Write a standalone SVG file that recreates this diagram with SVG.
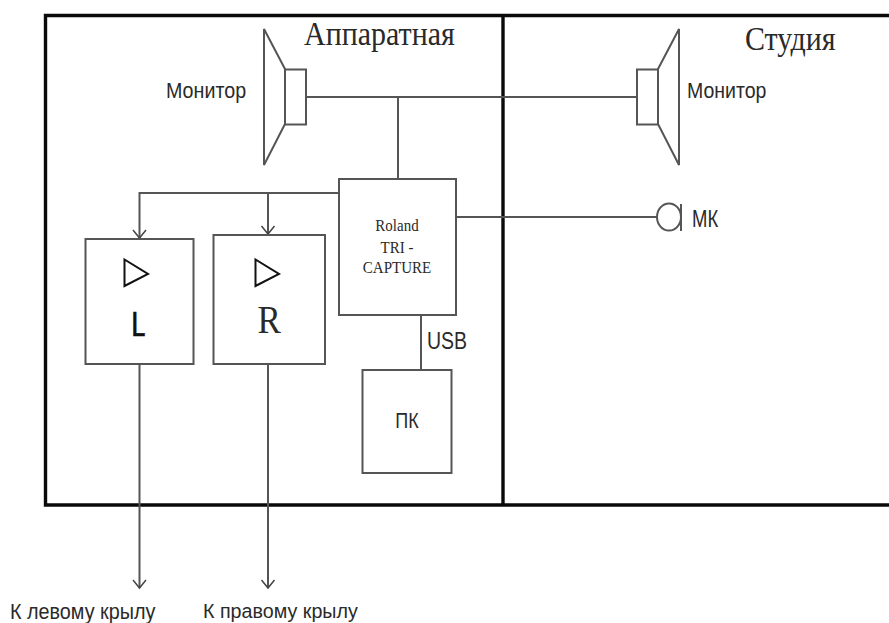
<svg xmlns="http://www.w3.org/2000/svg" width="889" height="623" viewBox="0 0 889 623">
<defs>
<marker id="arr" markerUnits="userSpaceOnUse" markerWidth="12" markerHeight="16" refX="10" refY="8" orient="auto" viewBox="0 0 12 16"><path d="M2 1.500 L10 8 L2 14.500" fill="none" stroke="#444" stroke-width="1.500"/></marker>
</defs>
<style>
.box{fill:#fff;stroke:#555;stroke-width:2}
.con{fill:none;stroke:#555;stroke-width:2}
.tri{fill:#fff;stroke:#111;stroke-width:2}
.wall{fill:none;stroke:#0a0a0a;stroke-width:3.4}
.a{font-family:"Liberation Sans",Arial,sans-serif;fill:#2a2a2a}
.t{font-family:"Liberation Serif","Times New Roman",serif;fill:#2a2a2a}
</style>
<rect width="889" height="623" fill="#fff"/>
<g id="frame">
<path class="wall" d="M889 15.500H45.500V505H889M503 15.500V505"/>
</g>
<g id="connectors">
<path class="con" d="M306 97H637"/>
<path class="con" d="M398 97V179"/>
<path class="con" d="M339 193H139.500V238" marker-end="url(#arr)"/>
<path class="con" d="M268 193V234" marker-end="url(#arr)"/>
<path class="con" d="M456 217H658"/>
<path class="con" d="M421 315V370"/>
<path class="con" d="M139.500 364V588" marker-end="url(#arr)"/>
<path class="con" d="M268 364V588" marker-end="url(#arr)"/>
</g>
<g id="monitor-left">
<path class="box" d="M264 29L285 69V124L264 165Z"/>
<rect class="box" x="285" y="69.500" width="21" height="55"/>
<text class="a" transform="translate(166 98) scale(1 1.150)" font-size="19.700">Монитор</text>
</g>
<g id="monitor-right">
<path class="box" d="M679 29L658 69V124L679 165Z"/>
<rect class="box" x="637" y="69.500" width="21" height="55"/>
<text class="a" transform="translate(687 98) scale(1 1.150)" font-size="19.500">Монитор</text>
</g>
<g id="mic">
<ellipse cx="669" cy="217" rx="12" ry="13.500" fill="#fff" stroke="#555" stroke-width="2"/>
<path class="con" d="M681 204V231"/>
<text class="a" transform="translate(692 227) scale(1 1.250)" font-size="18.500">МК</text>
</g>
<g id="amp-l">
<rect class="box" x="85.500" y="239" width="108" height="125"/>
<path class="tri" d="M124.500 259.500L148 274L124.500 286Z"/>
<text transform="translate(131 336) scale(.85 1)" font-family="Lato,'Open Sans',sans-serif" font-size="32" fill="#111" stroke="#111" stroke-width=".6">L</text>
</g>
<g id="amp-r">
<rect class="box" x="213.500" y="235" width="111.500" height="129"/>
<path class="tri" d="M255.500 259.500L279 274L255.500 286Z"/>
<text class="t" transform="translate(257.500 333) scale(1 1.150)" font-size="35" fill="#222">R</text>
</g>
<g id="roland">
<rect class="box" x="339" y="179" width="117" height="136"/>
<text class="t" transform="translate(397 231) scale(1 1.100)" font-size="15" text-anchor="middle" fill="#555">Roland</text>
<text class="t" transform="translate(397 252.500) scale(1 1.100)" font-size="15" text-anchor="middle" fill="#555">TRI -</text>
<text class="t" transform="translate(397 272.500) scale(1 1.100)" font-size="15" text-anchor="middle" fill="#555">CAPTURE</text>
</g>
<g id="pc">
<rect class="box" x="362.500" y="370" width="89" height="103"/>
<text class="a" transform="translate(407 428) scale(1 1.250)" font-size="18" text-anchor="middle">ПК</text>
</g>
<text class="a" transform="translate(427 349) scale(1 1.200)" font-size="19.500">USB</text>
<text class="t" transform="translate(304 45) scale(1 1.150)" font-size="30">Аппаратная</text>
<text class="t" transform="translate(745 50) scale(1 1.100)" font-size="30">Студия</text>
<text class="a" transform="translate(10 618.500) scale(1 1.100)" font-size="19.800">К левому крылу</text>
<text class="a" transform="translate(203 618) scale(1 1.050)" font-size="19.700">К правому крылу</text>
</svg>
